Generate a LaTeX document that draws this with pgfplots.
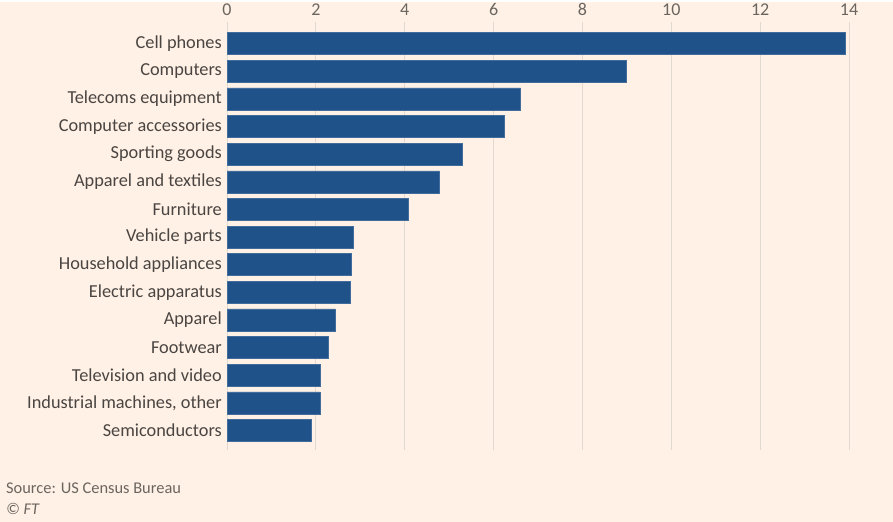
\documentclass[border=0pt]{standalone}
\usepackage{fontspec}
\setmainfont{Carlito}
\usepackage{pgfplots}
\pgfplotsset{compat=1.18}
\definecolor{bg}{HTML}{FFF1E5}
\definecolor{barc}{HTML}{1F5289}
\definecolor{gridc}{HTML}{E2D9D0}
\definecolor{txt}{HTML}{4A4542}
\definecolor{tickc}{HTML}{6B6560}
\begin{document}
\begin{tikzpicture}
\fill[bg] (0pt,0pt) rectangle (893pt,-520pt);
\begin{axis}[
  at={(227pt,-20pt)}, anchor=north west,
  scale only axis, width=622pt, height=428pt,
  xbar, bar width=22pt,
  xmin=0, xmax=14, ymin=-0.69, ymax=14.8,
  axis line style={draw=none},
  xtick={0,2,...,14},
  xticklabel pos=right,
  xmajorgrids, grid style={gridc, line width=1pt},
  major tick length=0pt,
  tick style={draw=none},
  /pgf/number format/assume math mode=true,
  xticklabel style={font=\fontsize{18}{21}\selectfont, text=tickc, anchor=center, yshift=12pt},
  ytick={0,...,14},
  yticklabels={Semiconductors, {Industrial machines, other}, Television and video, Footwear, Apparel, Electric apparatus, Household appliances, Vehicle parts, Furniture, Apparel and textiles, Sporting goods, Computer accessories, Telecoms equipment, Computers, Cell phones},
  yticklabel style={font=\fontsize{18.3}{21}\selectfont, text=txt, anchor=east, inner sep=0pt, xshift=-5pt},
  clip=false,
]
\addplot[fill=barc, draw=barc!85!white, line width=0.6pt] coordinates {
  (1.90,0) (2.09,1) (2.11,2) (2.27,3) (2.43,4) (2.77,5) (2.80,6) (2.84,7)
  (4.09,8) (4.78,9) (5.30,10) (6.25,11) (6.61,12) (8.99,13) (13.91,14)
};
\end{axis}
\node[anchor=west, inner sep=0pt, text=tickc, font=\fontsize{16.4}{19}\selectfont] at (6pt,-487pt) {Source: US Census Bureau};
\node[anchor=west, inner sep=0pt, text=tickc, font=\fontsize{16.4}{19}\selectfont\itshape] at (6pt,-507pt) {© FT};
\end{tikzpicture}
\end{document}
